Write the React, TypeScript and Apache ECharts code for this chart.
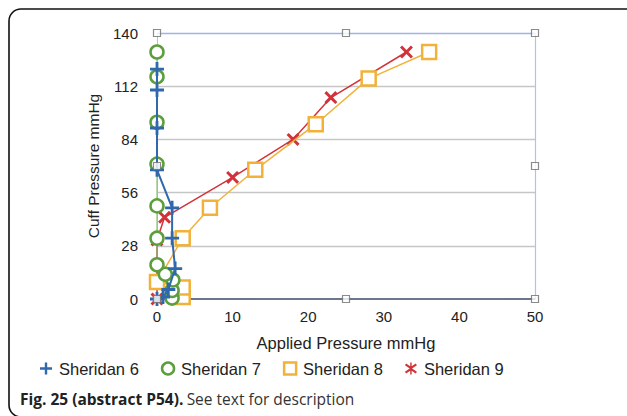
import React, { useEffect, useRef } from "react";
import * as echarts from "echarts";

const seriesNames = ["Sheridan 6", "Sheridan 7", "Sheridan 8", "Sheridan 9"];
const sheridan6: [number, number][] = [[0, 0], [0.8, 1], [1.5, 5], [2.4, 16], [2, 32], [2, 48], [0, 68], [0, 90], [0, 110], [0, 121]];
const sheridan7: [number, number][] = [[2, 0.5], [2, 4.5], [2.1, 10], [1.1, 13], [0, 18], [0, 32], [0, 49], [0, 71], [0, 93], [0, 117], [0, 130]];
const sheridan8: [number, number][] = [[3.4, 1], [3.4, 6], [0, 9], [3.4, 32], [7, 48], [13, 68], [21, 92], [28, 116], [36, 130]];
const sheridan9: [number, number][] = [[0, 0], [0, 31], [1, 43], [10, 64], [18, 84], [23, 106], [33, 130]];
const handles: [number, number][] = [[0, 0], [25, 0], [50, 0], [50, 70], [50, 140], [25, 140], [0, 140], [0, 70]];

const BLUE = "#2f68ad";
const GREEN = "#5c9e3c";
const ORANGE = "#f2b23a";
const RED = "#d2333a";

const PLUS = "path://M4,0H6V4H10V6H6V10H4V6H0V4H4Z";
const CROSS = "path://M0,1.6L1.6,0L5,3.4L8.4,0L10,1.6L6.6,5L10,8.4L8.4,10L5,6.6L1.6,10L0,8.4L3.4,5Z";
const STAR = "path://M0,2.2L1,0.8L5,3.6L9,0.8L10,2.2L6,5L10,7.8L9,9.2L5,6.4L1,9.2L0,7.8L4,5ZM4.4,0H5.6V10H4.4Z";

export default function App() {
  const ref = useRef<HTMLDivElement>(null);
  useEffect(() => {
    if (!ref.current) return;
    const chart = echarts.init(ref.current, undefined, { renderer: "svg" });
    const font = "'Liberation Sans', Arial, Helvetica, sans-serif";
    chart.setOption({
      animation: false,
      backgroundColor: "#fff",
      textStyle: { fontFamily: font },
      grid: { left: 157, right: 92, top: 33, bottom: 117, containLabel: false },
      xAxis: {
        type: "value",
        min: 0,
        max: 50,
        interval: 10,
        name: "Applied Pressure mmHg",
        nameLocation: "middle",
        nameGap: 35,
        nameTextStyle: { fontSize: 16.5, color: "#222", fontFamily: font },
        axisLine: { show: true, lineStyle: { color: "#3b4a68", width: 1.5 } },
        axisTick: { show: false },
        axisLabel: { fontSize: 15, color: "#222", margin: 10, fontFamily: font },
        splitLine: {
          show: true,
          lineStyle: { color: ["transparent", "transparent", "transparent", "transparent", "transparent", "#aac4ee"], width: 1.2 },
        },
      },
      yAxis: {
        type: "value",
        min: 0,
        max: 140,
        interval: 28,
        name: "Cuff Pressure mmHg",
        nameLocation: "middle",
        nameGap: 56,
        nameTextStyle: { fontSize: 15.5, color: "#222", fontFamily: font },
        axisLine: { show: true, lineStyle: { color: "#a9c3e6", width: 1 } },
        axisTick: { show: false },
        axisLabel: { fontSize: 15, color: "#222", margin: 19, fontFamily: font },
        splitLine: {
          show: true,
          lineStyle: { color: ["transparent", "#c6c6c6", "#c6c6c6", "#c6c6c6", "#c6c6c6", "#9db5e6"], width: 1.3 },
        },
      },
      legend: {
        left: 35,
        top: 355,
        itemWidth: 12,
        itemHeight: 12,
        itemGap: 22,
        textStyle: { fontSize: 16.5, color: "#222", fontFamily: font, padding: [0, 0, 0, 2] },
        data: [
          { name: seriesNames[0], icon: PLUS, itemStyle: { color: BLUE, borderWidth: 0 } },
          { name: seriesNames[1], icon: "circle", itemStyle: { color: "#fff", borderColor: GREEN, borderWidth: 2.5 } },
          { name: seriesNames[2], icon: "rect", itemStyle: { color: "#fff", borderColor: ORANGE, borderWidth: 2.5 } },
          { name: seriesNames[3], icon: STAR, itemStyle: { color: RED, borderWidth: 0 } },
        ],
      },
      graphic: [
        {
          type: "rect",
          shape: { x: 9, y: 9, width: 640, height: 408, r: 12 },
          style: { fill: "none", stroke: "#111", lineWidth: 1.6 },
          silent: true,
          z: 100,
        },
        {
          type: "text",
          x: 20,
          y: 399,
          style: {
            text: "{b|Fig. 25 (abstract P54).} {r|See text for description}",
            verticalAlign: "middle",
            rich: {
              b: { fontFamily: "Open Sans", fontWeight: "bold", fontSize: 15.5, fill: "#222" },
              r: { fontFamily: "Open Sans", fontSize: 15.5, fill: "#333" },
            },
          },
          silent: true,
        },
      ],
      series: [
        {
          name: seriesNames[0],
          type: "line",
          data: sheridan6,
          symbol: PLUS,
          symbolSize: 14,
          showAllSymbol: true,
          itemStyle: { color: BLUE },
          lineStyle: { color: BLUE, width: 2 },
          z: 5,
        },
        {
          name: seriesNames[1],
          type: "line",
          data: sheridan7,
          symbol: "circle",
          symbolSize: 13,
          showAllSymbol: true,
          itemStyle: { color: "#fff", borderColor: GREEN, borderWidth: 2.5 },
          lineStyle: { color: "#8cc07a", width: 1.2 },
          z: 4,
        },
        {
          name: seriesNames[2],
          type: "line",
          data: sheridan8,
          symbol: "rect",
          symbolSize: 14,
          showAllSymbol: true,
          itemStyle: { color: "#fff", borderColor: ORANGE, borderWidth: 2.5 },
          lineStyle: { color: ORANGE, width: 1.5 },
          z: 3,
        },
        {
          name: seriesNames[3],
          type: "line",
          data: sheridan9,
          symbol: CROSS,
          symbolSize: 13,
          showAllSymbol: true,
          itemStyle: { color: RED },
          lineStyle: { color: RED, width: 1.5 },
          z: 2,
        },
        {
          name: "handles",
          type: "scatter",
          data: handles,
          symbol: "rect",
          symbolSize: 7,
          silent: true,
          itemStyle: { color: "#fff", borderColor: "#6e6e6e", borderWidth: 1.2 },
          z: 10,
        },
      ],
    });
    return () => chart.dispose();
  }, []);
  return (
    <div
      ref={ref}
      style={{ position: "absolute", left: 0, top: 0, width: 627, height: 416, background: "#fff" }}
    />
  );
}
